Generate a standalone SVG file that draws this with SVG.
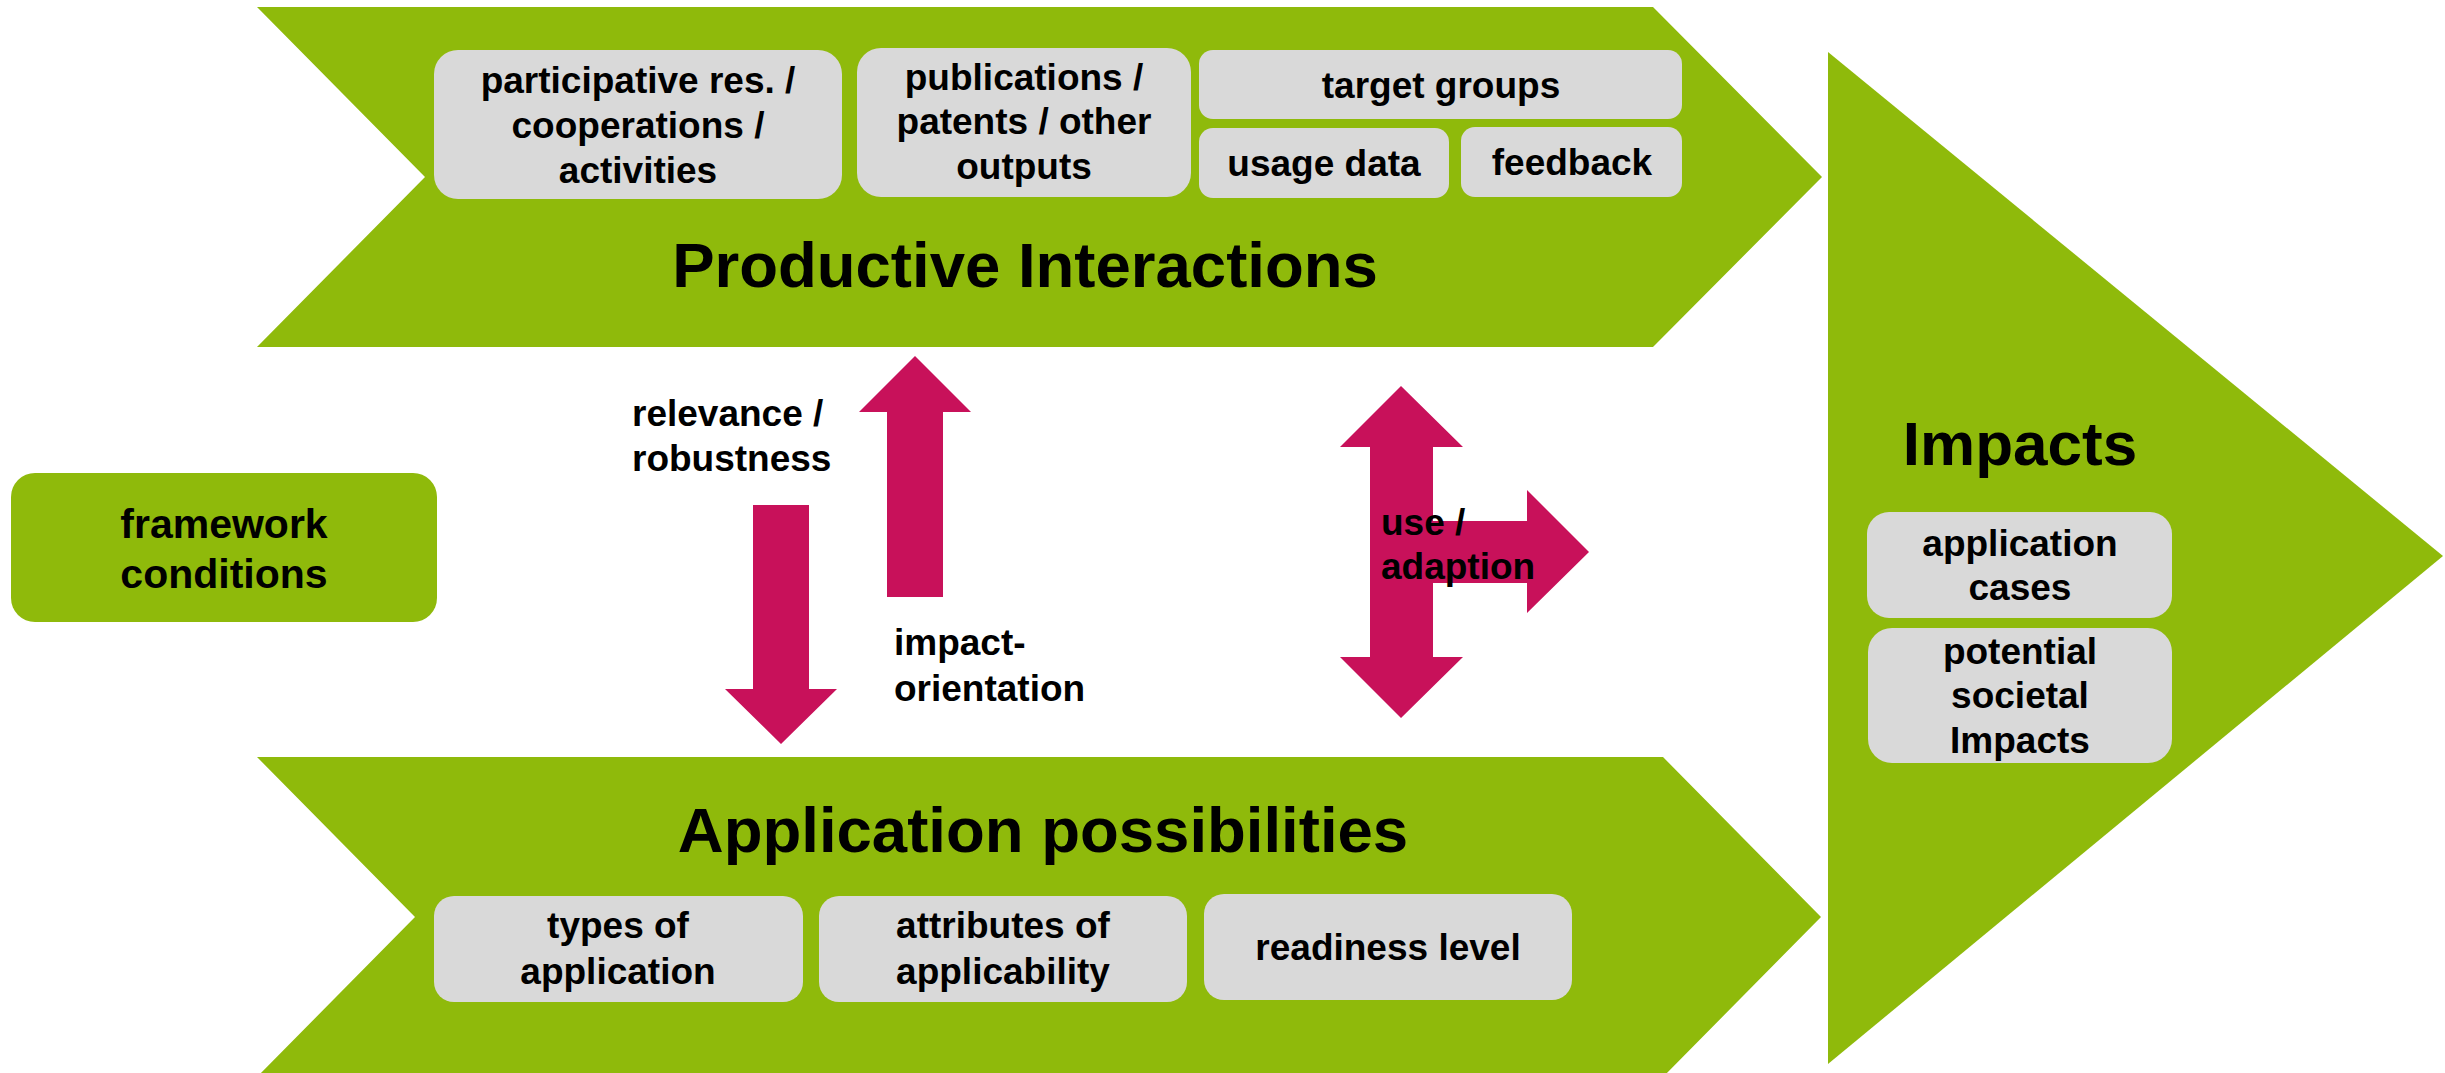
<svg xmlns="http://www.w3.org/2000/svg" width="2445" height="1073" viewBox="0 0 2445 1073">
<style>
.g{fill:#8FBA0B}
.box{fill:#D9D9D9}
.arr{fill:#C8115A}
text{font-family:"Liberation Sans",Arial,sans-serif;font-weight:bold;fill:#000}
.t{font-size:37px;text-anchor:middle}
.l{font-size:37px}
.h{font-size:63.5px;text-anchor:middle}
</style>
<rect width="2445" height="1073" fill="#FFFFFF"/>
<g id="productive-interactions">
<polygon class="g" points="257,7 1653,7 1822,177 1653,347 257,347 425,177"/>
<text class="h" x="1025" y="287">Productive Interactions</text>
</g>
<g id="participative">
<rect class="box" x="434" y="50" width="408" height="149" rx="24"/>
<text class="t" x="638" y="93">participative res. /</text>
<text class="t" x="638" y="138">cooperations /</text>
<text class="t" x="638" y="183">activities</text>
</g>
<g id="publications">
<rect class="box" x="857" y="48" width="334" height="149" rx="24"/>
<text class="t" x="1024" y="90">publications /</text>
<text class="t" x="1024" y="134">patents / other</text>
<text class="t" x="1024" y="179">outputs</text>
</g>
<g id="target-groups">
<rect class="box" x="1199" y="50" width="483" height="69" rx="14"/>
<text class="t" x="1441" y="98">target groups</text>
</g>
<g id="usage-data">
<rect class="box" x="1199" y="128" width="250" height="70" rx="14"/>
<text class="t" x="1324" y="176">usage data</text>
</g>
<g id="feedback">
<rect class="box" x="1461" y="127" width="221" height="70" rx="14"/>
<text class="t" x="1572" y="175">feedback</text>
</g>
<g id="application-possibilities">
<polygon class="g" points="257,757 1663,757 1821,917 1663,1077 257,1077 415,917"/>
<text class="h" x="1043" y="852">Application possibilities</text>
</g>
<g id="types">
<rect class="box" x="434" y="896" width="369" height="106" rx="20"/>
<text class="t" x="618" y="938">types of</text>
<text class="t" x="618" y="984">application</text>
</g>
<g id="attributes">
<rect class="box" x="819" y="896" width="368" height="106" rx="20"/>
<text class="t" x="1003" y="938">attributes of</text>
<text class="t" x="1003" y="984">applicability</text>
</g>
<g id="readiness">
<rect class="box" x="1204" y="894" width="368" height="106" rx="20"/>
<text class="t" x="1388" y="960">readiness level</text>
</g>
<g id="impacts">
<polygon class="g" points="1828,52 2443,556 1828,1064"/>
<text x="2020" y="465" style="font-size:62px;text-anchor:middle">Impacts</text>
</g>
<g id="application-cases">
<rect class="box" x="1867" y="512" width="305" height="106" rx="22"/>
<text class="t" x="2020" y="556">application</text>
<text class="t" x="2020" y="600">cases</text>
</g>
<g id="societal-impacts">
<rect class="box" x="1868" y="628" width="304" height="135" rx="24"/>
<text class="t" x="2020" y="664">potential</text>
<text class="t" x="2020" y="708">societal</text>
<text class="t" x="2020" y="753">Impacts</text>
</g>
<g id="framework-conditions">
<rect class="g" x="11" y="473" width="426" height="149" rx="24"/>
<text x="224" y="538" style="font-size:41px;text-anchor:middle">framework</text>
<text x="224" y="588" style="font-size:41px;text-anchor:middle">conditions</text>
</g>
<g id="connectors">
<polygon class="arr" points="915,356 971,412 943,412 943,597 887,597 887,412 859,412"/>
<polygon class="arr" points="753,505 809,505 809,689 837,689 781,744 725,689 753,689"/>
<polygon class="arr" points="1401,386 1463,447 1433,447 1433,521 1527,521 1527,490 1589,552 1527,613 1527,583 1433,583 1433,657 1463,657 1401,718 1340,657 1370,657 1370,447 1340,447"/>
<text class="l" x="632" y="426">relevance /</text>
<text class="l" x="632" y="471">robustness</text>
<text class="l" x="894" y="655">impact-</text>
<text class="l" x="894" y="701">orientation</text>
<text class="l" x="1381" y="535">use /</text>
<text class="l" x="1381" y="579">adaption</text>
</g>
</svg>
